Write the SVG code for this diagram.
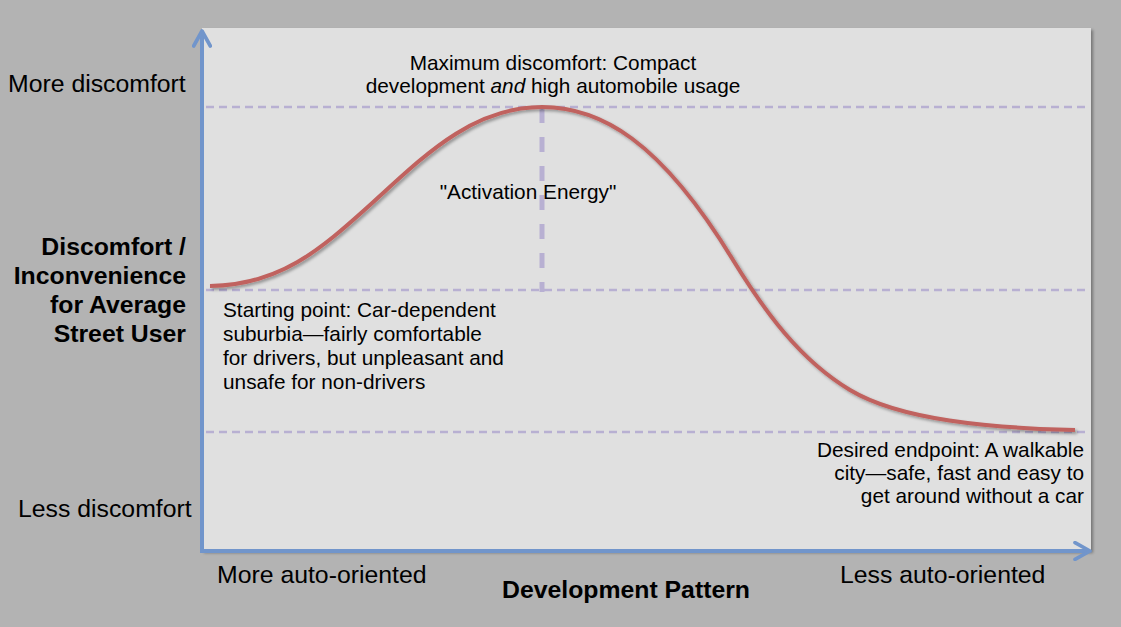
<svg xmlns="http://www.w3.org/2000/svg" width="1121" height="627" viewBox="0 0 1121 627">
<defs>
<style>
text{font-family:"Liberation Sans",Arial,sans-serif;fill:#000}
.ax{font-size:24.8px}
.axb{font-size:24.8px;font-weight:bold}
.body{font-size:20.8px}
.grid{stroke:#b8b0d2;stroke-width:2.5;stroke-dasharray:8 5;fill:none}
.axis{stroke:#7195cb;stroke-width:4;fill:none}
.curve{stroke:#c0625e;stroke-width:4;fill:none}
</style>
<filter id="sh" x="-5%" y="-5%" width="110%" height="110%">
<feDropShadow dx="2" dy="2" stdDeviation="1.5" flood-color="#000" flood-opacity="0.35"/>
</filter>
<marker id="chev" viewBox="0 0 12 12" refX="10" refY="6" markerWidth="5" markerHeight="5" orient="auto" markerUnits="strokeWidth">
<path d="M1,1 L10,6 L1,11" fill="none" stroke="#7195cb" stroke-width="2.2" stroke-linecap="round" stroke-linejoin="round"/>
</marker>
</defs>
<rect width="1121" height="627" fill="#b3b3b3"/>
<g id="panel">
<rect x="202" y="28" width="889" height="523" fill="#e0e0e0" filter="url(#sh)"/>
</g>
<g id="connectors">
<line class="grid" x1="206" y1="107" x2="1086" y2="107"/>
<line class="grid" x1="206" y1="290" x2="1086" y2="290"/>
<line class="grid" x1="206" y1="432" x2="1086" y2="432"/>
<line x1="542" y1="108" x2="542" y2="292" stroke="#b8b0d2" stroke-width="5" stroke-dasharray="15 14"/>
<path class="curve" filter="url(#sh)" d="M210,286 C280,285 320,250 370,205 C420,160 470,107 542,107 C600,107 660,140 733,260 C765,312 800,360 850,390 C900,420 990,428 1075,430"/>
<line class="axis" x1="202" y1="552" x2="202" y2="31" marker-end="url(#chev)"/>
<line class="axis" x1="200" y1="551" x2="1090" y2="551" marker-end="url(#chev)"/>
</g>
<g id="y-labels">
<text class="ax" x="8" y="92">More discomfort</text>
<text class="ax" x="18" y="517">Less discomfort</text>
<text class="axb" text-anchor="end"><tspan x="186" y="255">Discomfort /</tspan><tspan x="186" y="284">Inconvenience</tspan><tspan x="186" y="313">for Average</tspan><tspan x="186" y="342">Street User</tspan></text>
</g>
<g id="x-labels">
<text class="ax" x="217" y="583">More auto-oriented</text>
<text class="ax" x="840" y="583">Less auto-oriented</text>
<text class="axb" x="626" y="598" text-anchor="middle">Development Pattern</text>
</g>
<g id="max-label">
<text class="body" text-anchor="middle"><tspan x="553" y="70">Maximum discomfort: Compact</tspan><tspan x="553" y="93">development <tspan font-style="italic">and</tspan> high automobile usage</tspan></text>
</g>
<g id="activation-label">
<text class="body" x="528" y="199" text-anchor="middle">"Activation Energy"</text>
</g>
<g id="start-label">
<text class="body"><tspan x="223" y="317">Starting point: Car-dependent</tspan><tspan x="223" y="341">suburbia—fairly comfortable</tspan><tspan x="223" y="365">for drivers, but unpleasant and</tspan><tspan x="223" y="389">unsafe for non-drivers</tspan></text>
</g>
<g id="end-label">
<text class="body" text-anchor="end"><tspan x="1084" y="457">Desired endpoint: A walkable</tspan><tspan x="1084" y="480">city—safe, fast and easy to</tspan><tspan x="1084" y="503">get around without a car</tspan></text>
</g>
</svg>
